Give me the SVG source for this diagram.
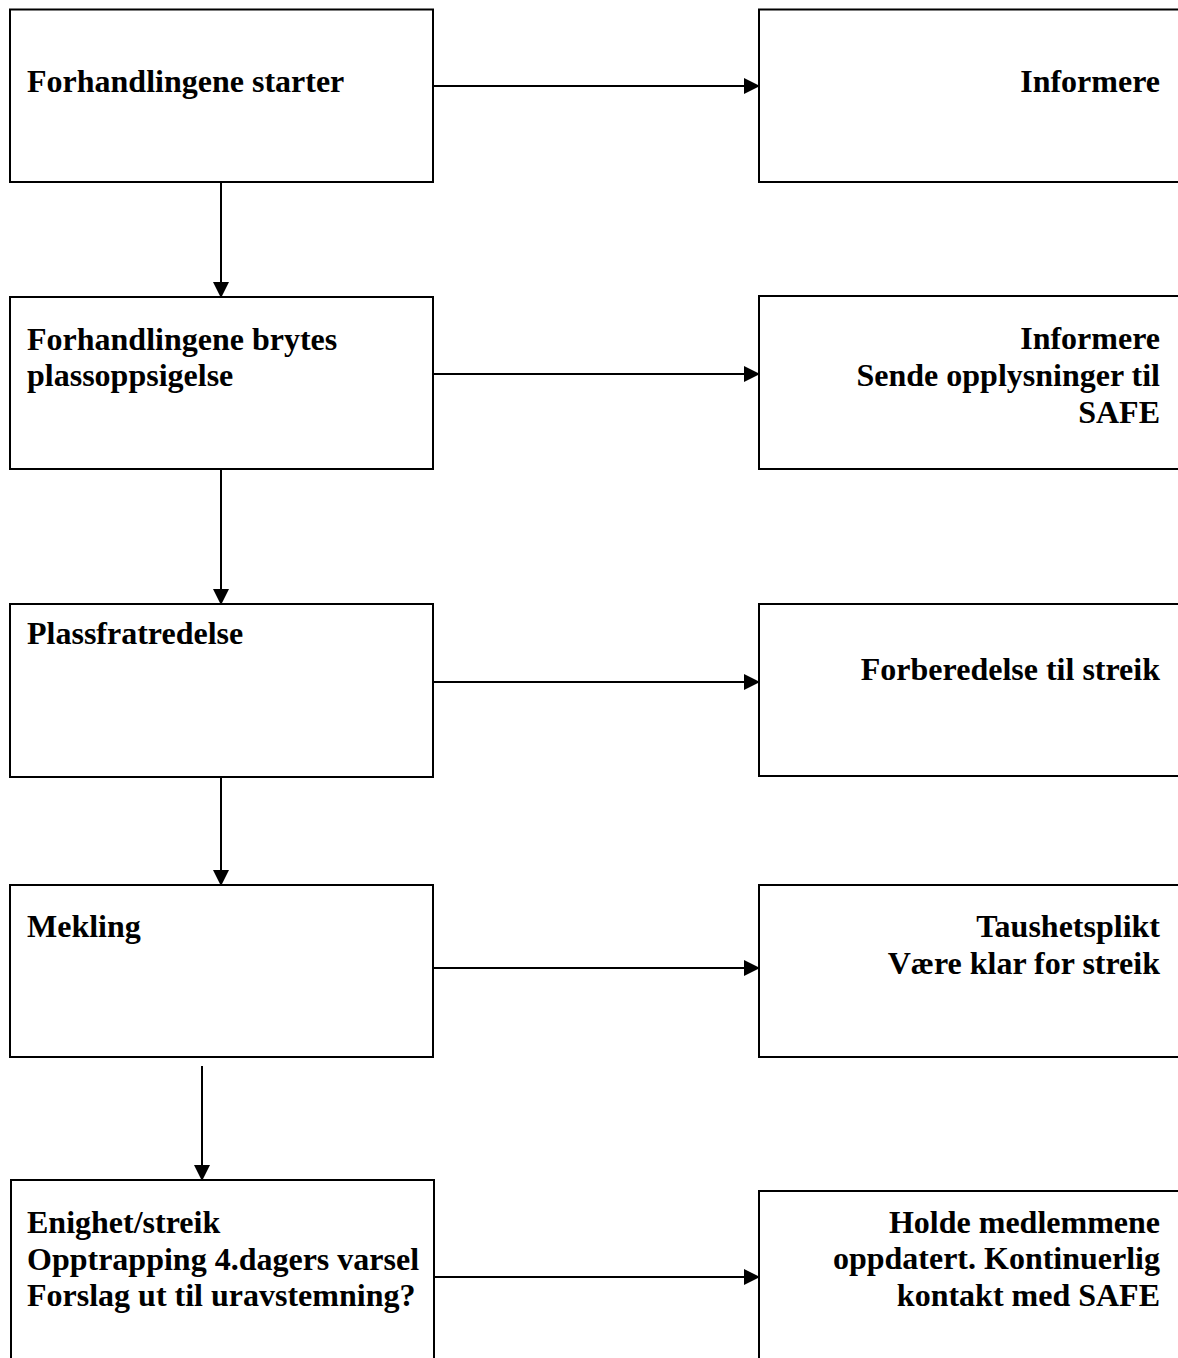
<svg xmlns="http://www.w3.org/2000/svg" width="1178" height="1358" viewBox="0 0 1178 1358">
<style>
.box{fill:#fff;stroke:#000;stroke-width:2}
.t{font-family:"Liberation Serif","Times New Roman",serif;font-weight:bold;font-size:32px;fill:#000}
.r{text-anchor:end}
.c{stroke:#000;stroke-width:2;fill:none;marker-end:url(#ah)}
</style>
<defs>
<marker id="ah" markerUnits="userSpaceOnUse" markerWidth="16" markerHeight="16" viewBox="0 0 16 16" refX="15" refY="8" orient="auto">
<path d="M0,0 L16,8 L0,16 Z" fill="#000"/>
</marker>
</defs>
<rect width="1178" height="1358" fill="#fff"/>
<g id="n1"><rect class="box" x="10" y="9.5" width="423" height="172.5"/><text class="t" x="27" y="92">Forhandlingene starter</text></g>
<g id="n2"><rect class="box" x="10" y="297" width="423" height="172"/><text class="t" x="27" y="350">Forhandlingene brytes</text><text class="t" x="27" y="386">plassoppsigelse</text></g>
<g id="n3"><rect class="box" x="10" y="604" width="423" height="173"/><text class="t" x="27" y="644">Plassfratredelse</text></g>
<g id="n4"><rect class="box" x="10" y="885" width="423" height="172"/><text class="t" x="27" y="937">Mekling</text></g>
<g id="n5"><rect class="box" x="11" y="1180" width="423" height="200"/><text class="t" x="27" y="1233">Enighet/streik</text><text class="t" x="27" y="1270">Opptrapping 4.dagers varsel</text><text class="t" x="27" y="1306">Forslag ut til uravstemning?</text></g>
<g id="m1"><rect class="box" x="759" y="9.5" width="440" height="172.5"/><text class="t r" x="1160" y="92">Informere</text></g>
<g id="m2"><rect class="box" x="759" y="296" width="440" height="173"/><text class="t r" x="1160" y="349">Informere</text><text class="t r" x="1160" y="386">Sende opplysninger til</text><text class="t r" x="1160" y="423">SAFE</text></g>
<g id="m3"><rect class="box" x="759" y="604" width="440" height="172"/><text class="t r" x="1160" y="680">Forberedelse til streik</text></g>
<g id="m4"><rect class="box" x="759" y="885" width="440" height="172"/><text class="t r" x="1160" y="937">Taushetsplikt</text><text class="t r" x="1160" y="974">Være klar for streik</text></g>
<g id="m5"><rect class="box" x="759" y="1191" width="440" height="200"/><text class="t r" x="1160" y="1233">Holde medlemmene</text><text class="t r" x="1160" y="1269">oppdatert. Kontinuerlig</text><text class="t r" x="1160" y="1306">kontakt med SAFE</text></g>
<g id="connectors">
<path class="c" d="M221,182 V297"/>
<path class="c" d="M221,469 V604"/>
<path class="c" d="M221,777 V885"/>
<path class="c" d="M202,1066 V1180"/>
<path class="c" d="M433,86 H759"/>
<path class="c" d="M433,374 H759"/>
<path class="c" d="M433,682 H759"/>
<path class="c" d="M433,968 H759"/>
<path class="c" d="M434,1277 H759"/>
</g>
</svg>
